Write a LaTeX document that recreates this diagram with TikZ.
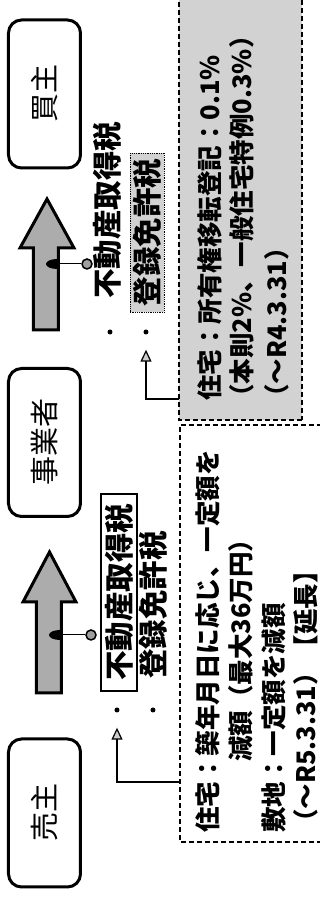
\documentclass[tikz,border=0pt]{standalone}
\usepackage{fontspec}
\newfontfamily\jp{Noto Sans CJK JP}
\usetikzlibrary{arrows.meta}
\begin{document}
\begin{tikzpicture}[x=1pt,y=1pt,
  party/.style={draw, line width=3pt, rounded corners=13pt, minimum width=148pt, minimum height=72pt, inner sep=0pt, font=\jp\fontsize{29}{34}\selectfont, fill=white},
  bigarrow/.style={draw, line width=3pt, fill=gray!65, line join=miter},
  tax/.style={font=\jp\bfseries\fontsize{29.5}{34}\selectfont, inner sep=0pt},
  note/.style={font=\jp\bfseries\fontsize{25.5}{30}\selectfont, inner sep=0pt, anchor=west},
  bulletdot/.style={circle, fill=black, inner sep=0pt, minimum size=5pt},
  ball/.style={circle, draw=black, line width=1.5pt, fill=gray!75, minimum size=10pt, inner sep=0pt},
  pointer/.style={line width=1.2pt, -{Triangle[length=12pt,width=11pt,fill=gray!40]}},
  notebox/.style={line width=1.2pt, dash pattern=on 5pt off 3pt}]
\begin{scope}[rotate=90, transform shape]
\useasboundingbox (0,0) rectangle (901,320);
\clip (0,0) rectangle (901,320);
% note boxes
\draw[notebox, fill=white] (59,-10) rectangle (476,140);
\draw[notebox, fill=gray!35] (481,18) rectangle (912,141);
% parties
\node[party] (seller) at (88,275.5) {売主};
\node[party] (biz) at (458.5,275.5) {事業者};
\node[party] (buyer) at (807,275.5) {買主};
% big arrows
\draw[bigarrow] (208,258.5) -- (299,258.5) -- (299,244) -- (349,270.5) -- (299,297) -- (299,283.5) -- (208,283.5) -- cycle;
\draw[bigarrow] (571,261.5) -- (653,261.5) -- (653,246) -- (702,273) -- (653,300) -- (653,286.5) -- (571,286.5) -- cycle;
% markers
\coordinate (m1) at (266,260);
\fill (m1) ++(-5,0) arc[start angle=180,end angle=0,x radius=5,y radius=11] -- cycle;
\node[ball] (c1) at (266,229) {};
\draw[line width=1pt] (m1) -- (c1);
\coordinate (m2) at (637,263);
\fill (m2) ++(-5,0) arc[start angle=180,end angle=0,x radius=5,y radius=11] -- cycle;
\node[ball] (c2) at (637,233) {};
\draw[line width=1pt] (m2) -- (c2);
% tax texts group 1
\node[tax, draw, line width=2pt, fill=white, minimum width=197pt, minimum height=36pt] (t1a) at (308.5,201) {不動産取得税};
\node[tax, anchor=west] (t1b) at (222,167) {登録免許税};
\node[bulletdot] (b1a) at (191,203) {};
\node[bulletdot] (b1b) at (191,167) {};
% tax texts group 2
\node[tax, anchor=west] (t2a) at (602,213) {不動産取得税};
\node[tax, draw=black, densely dotted, line width=0.8pt, fill=gray!35, minimum width=159pt, minimum height=34pt] (t2b) at (668.5,172.5) {登録免許税};
\node[bulletdot] (b2a) at (569,210) {};
\node[bulletdot] (b2b) at (569,174) {};
% notes
\node[note] (n1) at (68,112) {住宅：築年月日に応じ、一定額を};
\node[note] (n2) at (139,79) {減額（最大36万円）};
\node[note] (n3) at (68,46) {敷地：一定額を減額};
\node[note] (n4) at (66,14) {（～R5.3.31）【延長】};
\node[note] (g1) at (500,110) {住宅：所有権移転登記：0.1\%};
\node[note] (g2) at (491,78.5) {（本則2\%、一般住宅特例0.3\%）};
\node[note] (g3) at (491,43.5) {（～R4.3.31）};
% pointers
\coordinate (p1) at (119,140);
\coordinate (p2) at (502,141);
\draw[pointer, shorten >=15pt] (p1) |- (b1a);
\draw[pointer, shorten >=15pt] (p2) |- (b2b);
\end{scope}
\end{tikzpicture}
\end{document}
